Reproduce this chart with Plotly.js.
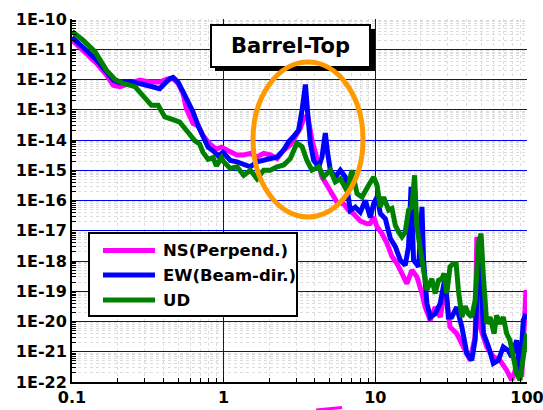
<!DOCTYPE html>
<html>
<head>
<meta charset="utf-8">
<script src="https://cdn.plot.ly/plotly-3.0.1.min.js"></script>
<style>html,body{margin:0;padding:0;background:#fff;}#chart{width:543px;height:410px;}</style>
</head>
<body>
<div id="chart"></div>
<script>
// NS (Perpend.) — magenta
const freqNS = [0.1,0.1187,0.1453,0.169,0.187,0.207,0.241,0.28,0.326,0.379,0.42,0.464,0.5,0.54,0.568,0.597,0.629,0.678,0.731,0.809,0.895,0.966,
  1.0,1.106,1.224,1.355,1.5,1.66,1.835,2.03,2.25,2.49,2.75,2.97,3.2,3.4,3.58,3.82,4.12,4.45,4.8,5.18,5.59,6.18,6.67,7.2,7.96,8.81,
  9.27,9.75,10.26,11.06,11.94,12.88,13.88,14.97,16.15,17.42,18.8,20.3,21.3,23.0,24.8,26.8,28.9,31.1,34.4,38.1,42.2,45.5,46.7,49.1,54.3,60.0,66.4,73.4,79.2,85.5,92.3,98.5];
const valNS = [2.0e-11,8.7e-12,3.4e-12,1.4e-12,6.5e-13,5.8e-13,7.8e-13,9.5e-13,8.3e-13,8.3e-13,1.02e-12,1.07e-12,7.4e-13,3.4e-13,1.07e-13,5.8e-14,3.5e-14,3.0e-14,1.4e-14,7.4e-15,5.0e-15,5.8e-15,
  5.2e-15,4.1e-15,3.2e-15,3.2e-15,3.6e-15,2.75e-15,3.6e-15,3.2e-15,2.45e-15,4.7e-15,6.8e-15,1.3e-14,2.45e-14,5.6e-14,6.3e-14,1.0e-14,2.1e-15,6.0e-16,3.2e-16,1.7e-16,8.7e-17,7.8e-17,4.7e-17,3.6e-17,2.1e-17,1.7e-17,
  1.75e-17,2.9e-17,1.35e-17,8.1e-18,3.8e-18,1.4e-18,8.3e-19,3.9e-19,1.8e-19,5.0e-19,3.0e-19,8.5e-20,3.0e-20,1.1e-20,3.0e-20,1.4e-20,1.4e-19,6.6e-21,4.0e-21,1.45e-21,5.2e-22,3.2e-21,6.3e-18,6.6e-21,1.45e-21,6.8e-22,5.2e-22,2.45e-22,1.15e-22,3.2e-22,1.5e-22,1.1e-19];

// EW (Beam-dir.) — blue
const freqEW = [0.1,0.1187,0.1453,0.169,0.187,0.207,0.241,0.28,0.318,0.351,0.379,0.409,0.441,0.464,0.5,0.54,0.582,0.629,0.678,0.731,0.789,0.851,0.918,0.99,
  1.106,1.224,1.355,1.5,1.66,1.835,2.03,2.25,2.49,2.68,2.89,3.12,3.29,3.46,3.58,3.73,3.92,4.23,4.45,4.68,4.85,5.05,5.45,5.88,6.34,6.84,7.38,7.96,8.59,9.27,
  9.75,10.26,10.79,11.64,12.56,13.55,14.6,15.74,16.56,17.2,17.87,19.3,20.3,20.8,21.88,23.0,24.8,26.8,28.9,30.3,31.9,34.4,37.2,40.1,43.2,45.5,47.9,49.1,51.6,55.7,60.0,64.7,69.8,75.3,79.2,85.5,89.9,94.6,98.5];
const valEW = [2.5e-11,1.07e-11,4.4e-12,1.8e-12,9.5e-13,7.8e-13,8.3e-13,7.4e-13,6.5e-13,5.8e-13,5.0e-13,7.4e-13,1.07e-12,1.17e-12,8.3e-13,3.9e-13,1.8e-13,8.3e-14,3.0e-14,1.2e-14,5.8e-15,4.4e-15,3.0e-15,3.9e-15,
  2.1e-15,1.9e-15,1.5e-15,1.3e-15,1.9e-15,2.1e-15,2.45e-15,2.75e-15,4.7e-15,8.7e-15,1.3e-14,2.1e-14,1.0e-13,6.8e-13,7.8e-14,7.8e-15,2.1e-15,1.3e-15,2.75e-15,1.7e-14,3.6e-15,1.0e-15,6.0e-16,1.0e-15,6.0e-16,4.7e-17,6.0e-17,4.1e-17,1.0e-16,2.75e-17,
  7.9e-17,1.3e-16,3.7e-17,2.5e-17,5.5e-18,3.0e-18,1.07e-18,7.2e-19,3.0e-18,2.8e-16,1.07e-18,6.5e-19,6.2e-17,1.07e-18,4.0e-20,1.4e-20,1.8e-20,4.0e-20,3.0e-19,1.4e-20,1.4e-20,3.0e-20,6.6e-21,8.7e-22,5.2e-22,2.45e-21,1.07e-18,6.3e-18,4.1e-21,1.5e-21,4.1e-22,5.2e-22,1.45e-21,1.1e-21,6.8e-22,2.4e-21,1.9e-22,1.1e-20,1.8e-20];

// UD — green
const freqUD = [0.1,0.1187,0.1417,0.169,0.192,0.218,0.26,0.295,0.334,0.37,0.409,0.464,0.513,0.582,0.644,0.694,0.731,0.789,0.851,0.895,0.966,
  1.0,1.106,1.224,1.355,1.5,1.66,1.835,2.03,2.25,2.49,2.75,3.04,3.29,3.54,3.82,4.23,4.56,5.05,5.45,5.88,6.5,7.02,7.57,8.17,9.03,
  9.75,10.26,10.79,11.35,12.24,12.88,13.55,14.25,14.97,15.74,16.56,17.42,18.15,18.8,19.77,20.8,21.88,23.6,24.8,26.1,27.5,28.4,29.6,31.1,32.7,34.1,35.3,37.2,39.1,41.1,43.2,45.5,47.9,49.8,51.6,54.3,57.1,60.7,63.1,66.4,69.8,73.4,77.2,81.3,85.5,89.9,94.6,99.5];
const valUD = [3.9e-11,1.95e-11,8.3e-12,2.0e-12,1.0e-12,7.4e-13,5.8e-13,3.0e-13,1.4e-13,1.4e-13,5.8e-14,4.7e-14,3.9e-14,1.8e-14,9.5e-15,7.4e-15,3.9e-15,2.3e-15,2.6e-15,1.4e-15,2.6e-15,
  1.9e-15,1.15e-15,1.3e-15,6.8e-16,1.0e-15,5.2e-16,1.0e-15,1.0e-15,1.3e-15,1.5e-15,2.45e-15,7.8e-15,6.0e-15,2.1e-15,1.0e-15,1.3e-15,6.0e-16,1.0e-15,4.1e-16,5.2e-16,2.1e-16,1.0e-15,1.7e-16,1.3e-16,3.2e-16,
  6.0e-16,3.2e-16,6.2e-17,1.3e-16,4.8e-17,5.4e-17,1.5e-17,9.1e-18,6.3e-18,9.1e-18,4.8e-17,6.2e-17,6.8e-16,1.35e-17,1.8e-18,5.0e-19,1.1e-19,2.6e-19,8.5e-20,2.3e-19,2.6e-19,3.9e-19,8.5e-20,6.5e-19,8.3e-19,8.3e-19,1.1e-19,1.4e-20,3.2e-20,1.8e-20,1.4e-20,5.0e-20,3.8e-18,8.1e-18,3.0e-19,8.5e-21,1.4e-20,4.0e-21,1.6e-20,8.5e-21,1.4e-20,4.0e-21,2.4e-21,5.2e-22,1.9e-22,1.15e-22,5.2e-22,4.0e-21];

const seriesNames = ['NS(Perpend.)', 'EW(Beam-dir.)', 'UD'];
const seriesColors = ['#ff00ff', '#0000ff', '#008000'];
const xTickVals = [0.1, 1, 10, 100];
const xTickText = ['0.1', '1', '10', '100'];
const yTickVals = [1e-22,1e-21,1e-20,1e-19,1e-18,1e-17,1e-16,1e-15,1e-14,1e-13,1e-12,1e-11,1e-10];
const yTickText = ['1E-22','1E-21','1E-20','1E-19','1E-18','1E-17','1E-16','1E-15','1E-14','1E-13','1E-12','1E-11','1E-10'];
const chartTitle = 'Barrel-Top';

const FONT = 'DejaVu Sans, Arial, sans-serif';
const mk = (x, y, name, color) => ({
  x, y, name, type: 'scatter', mode: 'lines',
  line: {color, width: 5}, hoverinfo: 'skip', showlegend: false
});
const traces = [
  mk(freqNS, valNS, seriesNames[0], seriesColors[0]),
  mk(freqEW, valEW, seriesNames[1], seriesColors[1]),
  mk(freqUD, valUD, seriesNames[2], seriesColors[2])
];

const px2x = p => (p - 72) / 455;
const py2y = p => (382 - p) / 363;

const shapes = [
  {type: 'rect', xref: 'paper', yref: 'paper', x0: px2x(215), x1: px2x(375), y0: py2y(71), y1: py2y(29),
   fillcolor: '#000', line: {width: 0}, layer: 'above'},
  {type: 'rect', xref: 'paper', yref: 'paper', x0: px2x(211), x1: px2x(370), y0: py2y(67), y1: py2y(25),
   fillcolor: '#fff', line: {color: '#000', width: 2}, layer: 'above'},
  {type: 'circle', xref: 'paper', yref: 'paper', x0: px2x(253), x1: px2x(363), y0: py2y(217), y1: py2y(62),
   fillcolor: 'rgba(0,0,0,0)', line: {color: '#ff9900', width: 5}, layer: 'above'},
  {type: 'line', xref: 'paper', yref: 'paper', x0: px2x(316), x1: px2x(342), y0: py2y(410), y1: py2y(407.5),
   line: {color: '#ff00ff', width: 3}, layer: 'above'},
  {type: 'rect', xref: 'paper', yref: 'paper', x0: px2x(89), x1: px2x(297), y0: py2y(316), y1: py2y(233),
   fillcolor: '#fff', line: {color: '#000', width: 2}, layer: 'above'}
];
const annotations = [
  {xref: 'paper', yref: 'paper', x: px2x(290.5), y: py2y(46), text: chartTitle, showarrow: false,
   xanchor: 'center', yanchor: 'middle',
   font: {family: FONT, size: 21, weight: 'bold', color: '#000'}}
];
const legendRows = [250.5, 275, 300];
seriesNames.forEach((nm, i) => {
  shapes.push({type: 'line', xref: 'paper', yref: 'paper', x0: px2x(103), x1: px2x(155),
    y0: py2y(legendRows[i]), y1: py2y(legendRows[i]), line: {color: seriesColors[i], width: 5}, layer: 'above'});
  annotations.push({xref: 'paper', yref: 'paper', x: px2x(161), y: py2y(legendRows[i]), text: nm,
    showarrow: false, xanchor: 'left', yanchor: 'middle',
    font: {family: FONT, size: 16.5, weight: 'bold', color: '#000'}});
});

const layout = {
  width: 543, height: 410,
  margin: {l: 72, r: 16, t: 19, b: 28, pad: 0},
  paper_bgcolor: '#ffffff', plot_bgcolor: '#ffffff',
  showlegend: false,
  font: {family: FONT, color: '#000'},
  xaxis: {
    type: 'log', range: [-1.0001, 2.0001],
    tickvals: xTickVals, ticktext: xTickText, ticklabeloverflow: 'allow',
    tickfont: {family: FONT, size: 16, weight: 'bold', color: '#000'},
    showline: true, linecolor: '#000', linewidth: 2, mirror: false,
    showgrid: true, gridcolor: '#0000ff', gridwidth: 1,
    ticks: 'inside', ticklen: 5, tickcolor: '#000',
    zeroline: false,
    minor: {dtick: 'D1', ticks: 'inside', ticklen: 4, tickcolor: '#000', showgrid: true, gridcolor: '#dcdcdc', griddash: 'dot', gridwidth: 1}
  },
  yaxis: {
    type: 'log', range: [-22, -10],
    tickvals: yTickVals, ticktext: yTickText,
    tickfont: {family: FONT, size: 16, weight: 'bold', color: '#000'},
    showline: true, linecolor: '#000', linewidth: 2, mirror: false,
    showgrid: true, gridcolor: '#0000ff', gridwidth: 1,
    ticks: 'inside', ticklen: 5, tickcolor: '#000',
    zeroline: false,
    minor: {dtick: 'D1', ticks: 'inside', ticklen: 4, tickcolor: '#000', showgrid: true, gridcolor: '#dcdcdc', griddash: 'dot', gridwidth: 1}
  },
  shapes, annotations
};

Plotly.newPlot('chart', traces, layout, {displayModeBar: false, staticPlot: true});
</script>
</body>
</html>
